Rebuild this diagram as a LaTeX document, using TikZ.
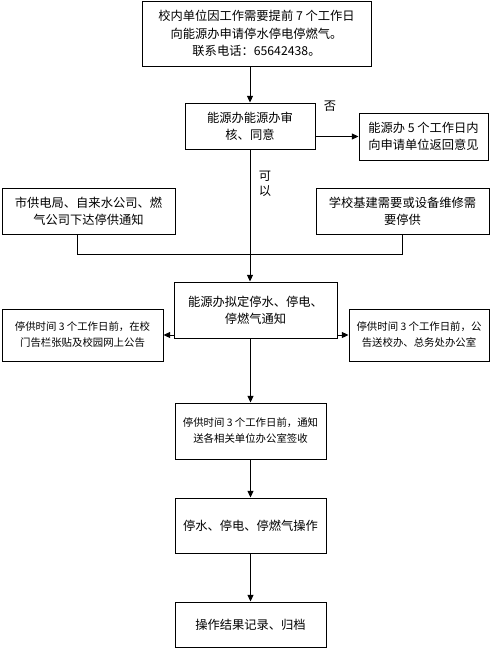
\documentclass[tikz,border=0pt]{standalone}
\usepackage{fontspec}
\setmainfont{Noto Sans CJK SC}
\usetikzlibrary{arrows.meta}

\tikzset{every picture/.style={line width=0.75pt}}
\tikzset{
  box/.style={draw, inner sep=0.75pt, align=center, font=\fontsize{9.2}{13}\selectfont},
  smallbox/.style={box, font=\fontsize{7.8}{12}\selectfont},
  flow/.style={-{Triangle[length=5pt,width=4.5pt]}},
  tag/.style={inner sep=0.75pt, align=center, font=\fontsize{9.2}{11}\selectfont}
}

\begin{document}
\begin{tikzpicture}[x=0.75pt,y=0.75pt,yscale=-1,xscale=1]
        \useasboundingbox (0,0) rectangle (500,668);
        %Shape: Rectangle [id:apply]
        \node [box, minimum width=171.75pt, minimum height=48.75pt] (apply) at (256.5,33.5) {校内单位因工作需要提前 7 个工作日\\向能源办申请停水停电停燃气。\\联系电话：65642438。};
        %Shape: Rectangle [id:review]
        \node [box, minimum width=97.5pt, minimum height=34.5pt] (review) at (250,126) {能源办能源办审\\核、同意};
        %Shape: Rectangle [id:reply]
        \node [box, minimum width=96.75pt, minimum height=35.25pt] (reply) at (423.5,136.5) {能源办 5 个工作日内\\向申请单位返回意见};
        %Shape: Rectangle [id:city]
        \node [box, minimum width=129.75pt, minimum height=34.5pt] (city) at (88.5,211) {市供电局、自来水公司、燃\\气公司下达停供通知};
        %Shape: Rectangle [id:school]
        \node [box, minimum width=129.75pt, minimum height=34.5pt] (school) at (402.5,211) {学校基建需要或设备维修需\\要停供};
        %Shape: Rectangle [id:draft]
        \node [box, minimum width=122.25pt, minimum height=42pt] (draft) at (255.5,310) {能源办拟定停水、停电、\\停燃气通知};
        %Shape: Rectangle [id:board]
        \node [smallbox, minimum width=120.75pt, minimum height=39pt] (board) at (82.5,335) {停供时间 3 个工作日前，在校\\门告栏张贴及校园网上公告};
        %Shape: Rectangle [id:office]
        \node [smallbox, minimum width=105pt, minimum height=39pt] (office) at (419,335) {停供时间 3 个工作日前，公\\告送校办、总务处办公室};
        %Shape: Rectangle [id:notify]
        \node [smallbox, minimum width=113.25pt, minimum height=42pt] (notify) at (250.5,431) {停供时间 3 个工作日前，通知\\送各相关单位办公室签收};
        %Shape: Rectangle [id:operate]
        \node [box, minimum width=113.25pt, minimum height=41.25pt] (operate) at (250.5,525.5) {停水、停电、停燃气操作};
        %Shape: Rectangle [id:record]
        \node [box, minimum width=113.25pt, minimum height=33.75pt] (record) at (250.5,624.5) {操作结果记录、归档};
        % Text Node
        \node [tag] (no) at (330,106) {否};
        % Text Node
        \node [tag] (yes) at (265,184) {可\\以};
        %Straight Lines [id:spine]
        \coordinate (merge) at (250,254);
        \coordinate (cityleg) at (77,254);
        \coordinate (schoolleg) at (402,254);
        \draw [flow] (apply.south -| review) -- (review);
        \draw [flow] (review.east |- reply) -- (reply);
        \draw (review) -- (merge);
        \draw (city.south -| cityleg) -- (cityleg) -- (schoolleg) -- (school.south -| schoolleg);
        \draw [flow] (merge) -- (merge |- draft.north);
        \draw [flow] (draft.west |- board) -- (board);
        \draw [flow] (draft.east |- office) -- (office);
        \draw [flow] (draft.south -| notify) -- (notify);
        \draw [flow] (notify) -- (operate);
        \draw [flow] (operate) -- (record);
    \end{tikzpicture}
\end{document}
